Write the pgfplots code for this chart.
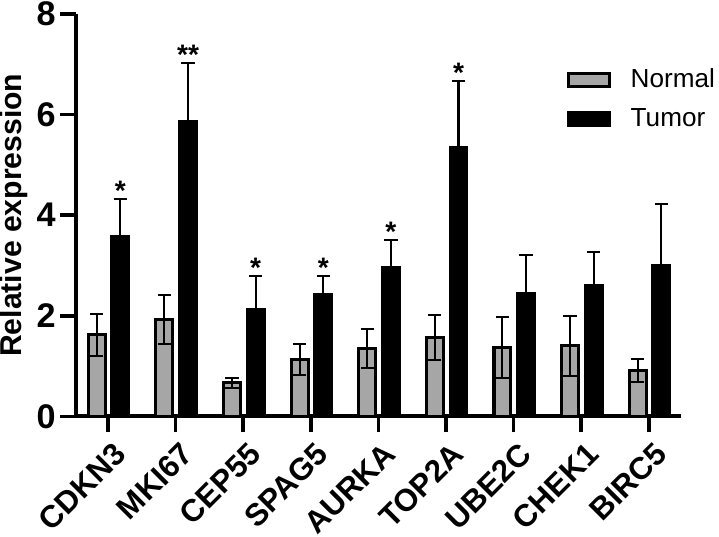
\documentclass[border=0pt]{standalone}
\usepackage{pgfplots}
\pgfplotsset{compat=1.18}
\usepackage{fontspec}
\setmainfont{Liberation Sans}

\definecolor{normalgray}{HTML}{A6A6A6}

\pgfplotsset{
    errstyle/.style={error bars/.cd, y dir=both, y explicit,
        error bar style={line width=1pt, black},
        error mark options={rotate=90, line width=1pt, mark size=3.3pt, black}},
}

\begin{document}
\begin{tikzpicture}
\begin{axis}[
    scale only axis,
    width=300.6pt, height=200pt,
    ybar,
    bar width=0.25,
    xmin=-0.47, xmax=8.47,
    ymin=0, ymax=8,
    ytick={0,2,4,6,8},
    xtick={0,...,8},
    xticklabels={CDKN3,MKI67,CEP55,SPAG5,AURKA,TOP2A,UBE2C,CHEK1,BIRC5},
    axis x line*=bottom,
    axis y line*=left,
    axis line style={line width=2pt, -},
    tick style={line width=1.8pt, black},
    tick align=outside,
    major tick length=8pt,
    /pgf/number format/assume math mode=true,
    y tick label style={font=\fontsize{17}{20}\selectfont\bfseries, inner sep=1pt, xshift=-1pt},
    x tick label style={font=\fontsize{15.5}{18}\selectfont\bfseries, inner sep=0pt,
        xshift=2pt, yshift=-4pt, rotate=45, anchor=north east},
    ylabel={Relative expression},
    ylabel style={font=\fontsize{15}{18}\selectfont\bfseries, inner sep=0pt},
    ylabel shift=3pt,
    legend style={draw=none, fill=none, at={(0.812,0.875)}, anchor=north west,
        font=\fontsize{13}{16}\selectfont, row sep=5pt, inner sep=0pt},
    legend cell align=left,
    legend image code/.code={\draw[#1, line width=1.5pt] (0pt,-3.2pt) rectangle (20pt,3.2pt);
        \path (28pt,0pt);},
]
% Normal
\addplot[draw=black, line width=1.5pt, fill=normalgray, bar shift=-0.165, errstyle]
  coordinates {
    (0,1.62) +- (0,0.42)
    (1,1.93) +- (0,0.49)
    (2,0.67) +- (0,0.10)
    (3,1.13) +- (0,0.31)
    (4,1.35) +- (0,0.38)
    (5,1.57) +- (0,0.45)
    (6,1.37) +- (0,0.61)
    (7,1.40) +- (0,0.60)
    (8,0.91) +- (0,0.23)
  };
\addlegendentry{Normal}
% Tumor
\addplot[draw=black, line width=1.5pt, fill=black, bar shift=0.185, errstyle]
  coordinates {
    (0,3.57) +- (0,0.76)
    (1,5.87) +- (0,1.15)
    (2,2.12) +- (0,0.67)
    (3,2.42) +- (0,0.37)
    (4,2.97) +- (0,0.53)
    (5,5.34) +- (0,1.33)
    (6,2.44) +- (0,0.77)
    (7,2.61) +- (0,0.66)
    (8,3.00) +- (0,1.22)
  };
\addlegendentry{Tumor}
% significance marks
\addplot[forget plot, draw=none, fill=none, bar shift=0.185,
    nodes near coords, point meta=explicit symbolic,
    nodes near coords style={font=\fontsize{14}{16}\selectfont\bfseries,
        anchor=south, inner sep=0pt, yshift=-1pt}]
  coordinates {
    (0,4.33) [*]
    (1,7.02) [**]
    (2,2.79) [*]
    (3,2.79) [*]
    (4,3.50) [*]
    (5,6.67) [*]
  };
\end{axis}
\end{tikzpicture}
\end{document}
